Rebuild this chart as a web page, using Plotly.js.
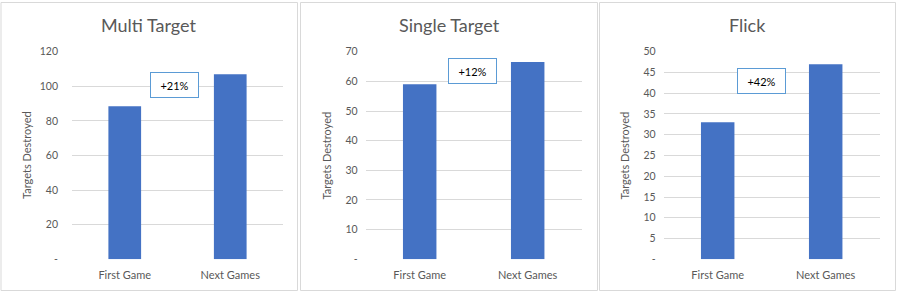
<!DOCTYPE html>
<html>
<head>
<meta charset="utf-8">
<script src="https://cdn.plot.ly/plotly-3.0.1.min.js"></script>
<style>html,body{margin:0;padding:0;background:#fff;}#chart{width:898px;height:294px;}</style>
</head>
<body>
<div id="chart"></div>
<script>
// ---- data ----
const categories = ["First Game", "Next Games"];
const panelTitles = ["Multi Target", "Single Target", "Flick"];
const multiTarget = [88.5, 107];
const singleTarget = [59, 66.5];
const flick = [33, 47];
const changeLabels = ["+21%", "+12%", "+42%"];
const yMax = [120, 70, 50];
const yStep = [20, 10, 5];
const yTitle = "Targets Destroyed";

// ---- layout config ----
const W = 898, H = 294;
const FONT = "Lato, 'Open Sans', sans-serif";
const GRAY = "#595959";
const series = [multiTarget, singleTarget, flick];
const xDomains = [[72/W, 283/W], [365.7/W, 581.7/W], [663.7/W, 879.7/W]];
const yDomain = [1 - 259.3/H, 1 - 51.7/H];
const panelBox = [[1, 297.5], [300.5, 597.5], [599.5, 895.5]];
const axisTitleX = [26.5, 326, 624];
const boxPos = [[0.469, 100.7], [0.486, 63.5], [0.403, 42.9]];
const standoff = [13, 7, 7];

const traces = [];
const layout = {
  width: W, height: H,
  margin: {l: 0, r: 0, t: 0, b: 0},
  paper_bgcolor: "#fff", plot_bgcolor: "rgba(0,0,0,0)",
  showlegend: false,
  bargap: 0.69,
  font: {family: FONT, color: GRAY},
  shapes: [], annotations: []
};

series.forEach((vals, i) => {
  const s = i === 0 ? "" : String(i + 1);
  traces.push({
    type: "bar", x: categories, y: vals,
    xaxis: "x" + s, yaxis: "y" + s,
    marker: {color: "#4472C4"},
    hoverinfo: "x+y"
  });
  const tv = [], tt = [];
  for (let v = 0; v <= yMax[i]; v += yStep[i]) { tv.push(v); tt.push(v === 0 ? "-" : String(v)); }
  layout["xaxis" + s] = {
    domain: xDomains[i], anchor: "y" + s,
    range: [-0.5, 1.5], type: "category",
    showgrid: false, zeroline: false, showline: false, ticks: "",
    tickfont: {family: FONT, size: 11, color: GRAY},
    ticklabelstandoff: 8
  };
  layout["yaxis" + s] = {
    domain: yDomain, anchor: "x" + s,
    range: [0, yMax[i]], tickvals: tv, ticktext: tt,
    showgrid: true, gridcolor: "#D9D9D9", gridwidth: 1,
    zeroline: false, showline: false, ticks: "",
    tickfont: {family: FONT, size: 10.5, color: GRAY},
    ticklabelstandoff: standoff[i]
  };
  layout.shapes.push({
    type: "rect", xref: "paper", yref: "paper",
    x0: panelBox[i][0]/W, x1: panelBox[i][1]/W,
    y0: 1 - 290.5/H, y1: 1 - 2.5/H,
    line: {color: "#D9D9D9", width: 1}, fillcolor: "rgba(0,0,0,0)", layer: "below"
  });
  layout.annotations.push({
    xref: "paper", yref: "paper",
    x: (panelBox[i][0] + panelBox[i][1]) / 2 / W, y: 1 - 25/H,
    xanchor: "center", yanchor: "middle", showarrow: false,
    text: panelTitles[i], font: {family: FONT, size: 18, color: GRAY}
  });
  layout.annotations.push({
    xref: "paper", yref: "paper",
    x: axisTitleX[i]/W, y: (yDomain[0] + yDomain[1]) / 2,
    xanchor: "center", yanchor: "middle", showarrow: false, textangle: -90,
    text: yTitle, font: {family: FONT, size: 11, color: GRAY}
  });
  layout.annotations.push({
    xref: "x" + s, yref: "y" + s,
    x: boxPos[i][0], y: boxPos[i][1],
    xanchor: "center", yanchor: "middle", showarrow: false,
    text: changeLabels[i], font: {family: FONT, size: 11, color: "#000"},
    width: 45, height: 22, borderpad: 1, borderwidth: 1,
    bordercolor: "#5B9BD5", bgcolor: "#fff", align: "center", valign: "middle"
  });
});

Plotly.newPlot("chart", traces, layout, {staticPlot: true, displayModeBar: false});
</script>
</body>
</html>
